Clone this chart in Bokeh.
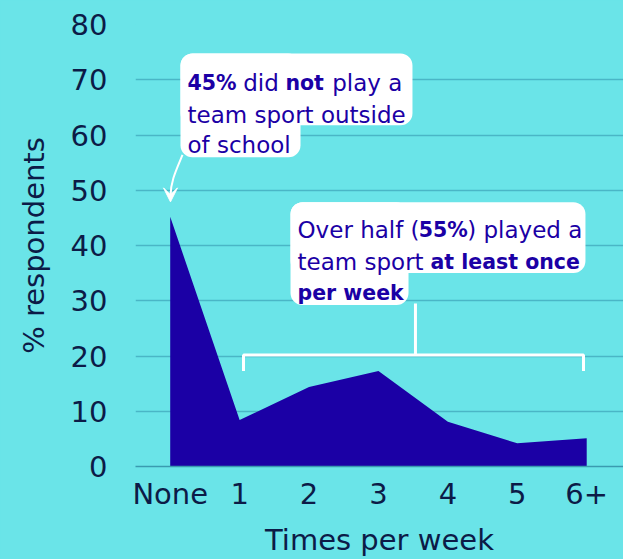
from bokeh.plotting import figure
from bokeh.models import Range1d, FixedTicker, Label, Arrow, VeeHead
from bokeh.embed import file_html
from bokeh.resources import INLINE

categories = ["None", "1", "2", "3", "4", "5", "6+"]
respondents = [45.2, 8.4, 14.4, 17.3, 8.1, 4.2, 5.1]
y_ticks = [0, 10, 20, 30, 40, 50, 60, 70, 80]

BG = "#6ae4e8"
INK = "#1b00a5"
AX = "#0c1b47"
GRID = "#4ab6c6"
FONT = "DejaVu Sans"
AXFONT = "DejaVu Sans"

xs = list(range(len(categories)))

p = figure(width=623, height=559, output_backend="svg", toolbar_location=None,
           x_range=Range1d(-0.5, 6.53), y_range=Range1d(0, 80),
           min_border_left=135, min_border_right=0, min_border_top=24, min_border_bottom=92)
p.background_fill_color = BG
p.border_fill_color = BG
p.outline_line_color = None

p.varea(x=xs, y1=[0] * len(xs), y2=respondents, fill_color=INK)

p.xgrid.grid_line_color = None
p.ygrid.grid_line_color = GRID
p.ygrid.grid_line_width = 1.5

p.xaxis.ticker = FixedTicker(ticks=xs)
p.xaxis.major_label_overrides = {i: c for i, c in zip(xs, categories)}
p.yaxis.ticker = FixedTicker(ticks=y_ticks)
for ax in (p.xaxis, p.yaxis):
    ax.major_tick_line_color = None
    ax.minor_tick_line_color = None
    ax.major_label_text_font = AXFONT
    ax.major_label_text_font_size = "29px"
    ax.major_label_text_color = AX
    ax.axis_label_text_font = AXFONT
    ax.axis_label_text_font_size = "29px"
    ax.axis_label_text_color = AX
    ax.axis_label_text_font_style = "normal"
p.yaxis.axis_line_color = None
p.xaxis.axis_line_color = "#3a9ab0"
p.xaxis.axis_line_width = 1.5
p.xaxis.axis_label = "Times per week"
p.yaxis.axis_label = "% respondents"
p.yaxis.major_label_standoff = 22
p.xaxis.major_label_standoff = 4
p.xaxis.axis_label_standoff = 9
p.yaxis.axis_label_standoff = 17

# annotation boxes
def box(l, r, t, b):
    p.quad(left=l, right=r, top=t, bottom=b, fill_color="white", line_color=None, border_radius=12)

box(0.148, 3.49, 74.76, 61.76)
box(0.148, 1.877, 74.76, 55.98)
box(1.733, 5.982, 47.85, 35.03)
box(1.733, 3.433, 47.85, 29.25)

def seg(x, y, t, bold=False):
    p.add_layout(Label(x=x, y=y, text=t, text_font=FONT,
                       text_font_size="20.5px" if bold else "23px",
                       text_color=INK, text_font_style="bold" if bold else "normal",
                       text_baseline="alphabetic", text_align="left"))

seg(0.249, 69.34, "45%", True)
seg(1.052, 69.34, "did")
seg(1.66, 69.34, "not", True)
seg(2.334, 69.34, "play a")
seg(0.249, 63.57, "team sport outside")
seg(0.249, 58.15, "of school")

seg(1.834, 42.80, "Over half (")
seg(3.581, 42.80, "55%", True)
seg(4.278, 42.80, ") played a")
seg(1.834, 37.02, "team sport")
seg(3.750, 37.02, "at least once", True)
seg(1.834, 31.42, "per week", True)

# connector and bracket
p.line(x=[3.533, 3.533], y=[29.5, 20.2], line_color="white", line_width=3)
p.line(x=[1.056, 1.056, 5.954, 5.954], y=[17.3, 20.2, 20.2, 17.3], line_color="white", line_width=3)

# curved arrow
p.bezier(x0=[0.177], y0=[56.4], x1=[0.004], y1=[48.9], cx0=[0.08], cy0=[53.5], cx1=[0.004], cy1=[51.5],
         line_color="white", line_width=2)
p.add_layout(Arrow(end=VeeHead(size=14, fill_color="white", line_color="white"),
                   x_start=0.004, y_start=49.4, x_end=0.004, y_end=47.9, line_color="white", line_width=2))

html = file_html(p, INLINE)
html = html.replace("</head>", "<style>body{background:%s;}</style></head>" % BG)
open("out.html", "w").write(html)
